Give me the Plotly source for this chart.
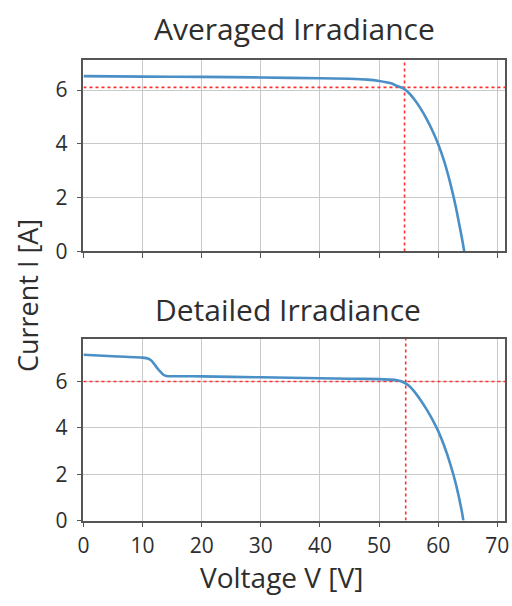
import plotly.graph_objects as go

# Averaged irradiance I-V curve
v_avg = [0, 10, 20, 30, 40, 45, 48, 50, 52, 53, 54, 55, 56, 57, 58, 59, 60, 61, 62, 63, 64, 64.4]
i_avg = [6.52, 6.50, 6.49, 6.47, 6.44, 6.42, 6.39, 6.34, 6.25, 6.16, 6.07, 5.90, 5.64, 5.32, 4.94, 4.50, 3.99, 3.36, 2.57, 1.63, 0.50, 0.0]

# Detailed irradiance I-V curve
v_det = [0, 5, 10, 11, 11.5, 12, 12.5, 13, 13.5, 14, 20, 30, 40, 45, 50, 52, 53, 54, 55, 56, 57, 58, 59, 60, 61, 62, 63, 64, 64.25]
i_det = [7.15, 7.09, 7.03, 6.98, 6.90, 6.74, 6.57, 6.42, 6.29, 6.24, 6.22, 6.18, 6.14, 6.12, 6.10, 6.08, 6.05, 5.98, 5.83, 5.55, 5.20, 4.81, 4.37, 3.86, 3.23, 2.47, 1.56, 0.38, 0.0]

# Maximum power point markers
mpp_v = [54.3, 54.5]
mpp_i = [6.1, 6.0]

titles = ["Averaged Irradiance", "Detailed Irradiance"]
x_ticks = [0, 10, 20, 30, 40, 50, 60, 70]
y_ticks = [0, 2, 4, 6]
y_max = [7.13, 7.85]
x_max = 71.3

W, H = 512, 606
px_x = (79, 509)
panels_px = [(61, 257), (346, 532)]

FONT = "Open Sans"
TXT = "#2e2e2e"
LINE = "#4a8fc6"
RED = "#ff3030"

fig = go.Figure()

for k, (vv, ii) in enumerate([(v_avg, i_avg), (v_det, i_det)]):
    xa = "x" if k == 0 else "x2"
    ya = "y" if k == 0 else "y2"
    fig.add_trace(go.Scatter(x=[0, x_max], y=[mpp_i[k], mpp_i[k]], mode="lines",
                             line=dict(color=RED, width=1.6, dash="dot"),
                             xaxis=xa, yaxis=ya, showlegend=False))
    fig.add_trace(go.Scatter(x=[mpp_v[k], mpp_v[k]], y=[0, y_max[k]], mode="lines",
                             line=dict(color=RED, width=1.6, dash="dot"),
                             xaxis=xa, yaxis=ya, showlegend=False))
    fig.add_trace(go.Scatter(x=vv, y=ii, mode="lines",
                             line=dict(color=LINE, width=2.6, shape="spline", smoothing=0.5),
                             xaxis=xa, yaxis=ya, showlegend=False))

def ydom(top, bot):
    return [1 - bot / H, 1 - top / H]

xdom = [px_x[0] / W, px_x[1] / W]

axis_common = dict(showline=True, linecolor="#555555", linewidth=1.6, mirror=True,
                   showgrid=True, gridcolor="#c9c9c9", gridwidth=1,
                   ticks="outside", ticklen=5, tickcolor="#555555", tickwidth=1,
                   zeroline=False, ticklabeloverflow="allow",
                   tickfont=dict(family=FONT, size=21, color=TXT))

fig.update_layout(
    width=W, height=H, margin=dict(l=0, r=0, t=0, b=0),
    paper_bgcolor="white", plot_bgcolor="white",
    xaxis=dict(domain=xdom, range=[0, x_max], tickvals=x_ticks, showticklabels=False, anchor="y", **axis_common),
    yaxis=dict(domain=ydom(*panels_px[0]), range=[0, y_max[0]], tickvals=y_ticks, anchor="x",
               ticklabelstandoff=5, **axis_common),
    xaxis2=dict(domain=xdom, range=[0, x_max], tickvals=x_ticks, anchor="y2", **axis_common),
    yaxis2=dict(domain=ydom(*panels_px[1]), range=[0, y_max[1]], tickvals=y_ticks, anchor="x2",
                ticklabelstandoff=5, **axis_common),
    annotations=[
        dict(text=titles[0], x=294.5 / W, y=1 - 29 / H, xref="paper", yref="paper", showarrow=False,
             font=dict(family=FONT, size=30, color=TXT), xanchor="center", yanchor="middle"),
        dict(text=titles[1], x=287.5 / W, y=1 - 316 / H, xref="paper", yref="paper", showarrow=False,
             font=dict(family=FONT, size=30, color=TXT), xanchor="center", yanchor="middle"),
        dict(text="Current I [A]", x=22 / W, y=1 - 302 / H, xref="paper", yref="paper", showarrow=False,
             textangle=-90, font=dict(family=FONT, size=27, color=TXT), xanchor="center", yanchor="middle"),
        dict(text="Voltage V [V]", x=281 / W, y=1 - 590 / H, xref="paper", yref="paper", showarrow=False,
             font=dict(family=FONT, size=28, color=TXT), xanchor="center", yanchor="middle"),
    ],
)

fig.write_html("out.html")
